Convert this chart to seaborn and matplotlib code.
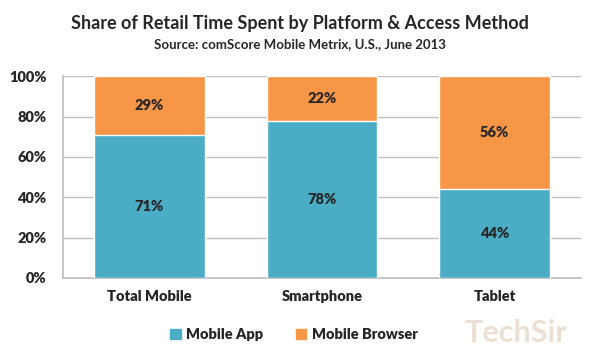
import pandas as pd
import matplotlib.pyplot as plt
import seaborn as sns
from matplotlib.patches import Patch
from matplotlib.ticker import PercentFormatter

# data
platforms = ['Total Mobile', 'Smartphone', 'Tablet']
app_share = [71, 78, 44]
browser_share = [29, 22, 56]

blue = '#4BACC6'
orange = '#F79646'

sns.set_theme(style="white")
plt.rcParams['font.family'] = ['Lato', 'DejaVu Sans']

df = pd.DataFrame({'Platform': platforms, 'App': app_share, 'Browser': browser_share})
df['Total'] = df['App'] + df['Browser']

fig = plt.figure(figsize=(6, 3.6), dpi=100)
ax = fig.add_axes([0.105, 0.228, 0.863, 0.56])

# stacked: full bar in orange, app part on top in blue
sns.barplot(data=df, x='Platform', y='Total', color=orange, width=0.64,
            saturation=1, ax=ax, zorder=2)
sns.barplot(data=df, x='Platform', y='App', color=blue, width=0.64,
            saturation=1, ax=ax, zorder=3)

ax.set_ylim(0, 100)
ax.set_yticks(range(0, 101, 20))
ax.yaxis.set_major_formatter(PercentFormatter(decimals=0))
ax.grid(axis='y', color='#BFBFBF', linewidth=1, zorder=0)
ax.set_axisbelow(True)
for s in ['top', 'right']:
    ax.spines[s].set_visible(False)
for s in ['left', 'bottom']:
    ax.spines[s].set_color('#BFBFBF')
ax.set_xlabel('')
ax.set_ylabel('')
ax.tick_params(axis='y', length=0, labelsize=10.5, pad=12)
ax.tick_params(axis='x', length=0, labelsize=10.5, pad=9)
for lab in ax.get_xticklabels() + ax.get_yticklabels():
    lab.set_fontweight('heavy')

# value labels
for i, (a, b) in enumerate(zip(app_share, browser_share)):
    ax.text(i, a / 2, f'{a}%', ha='center', va='center', fontsize=10.5, fontweight='heavy')
    ax.text(i, a + b / 2, f'{b}%', ha='center', va='center', fontsize=10.5, fontweight='heavy')

fig.text(0.5, 0.935, 'Share of Retail Time Spent by Platform & Access Method',
         ha='center', va='center', fontsize=13, fontweight='bold')
fig.text(0.5, 0.878, 'Source: comScore Mobile Metrix, U.S., June 2013',
         ha='center', va='center', fontsize=9.5, fontweight='bold')

handles = [Patch(color=blue, label='Mobile App'), Patch(color=orange, label='Mobile Browser')]
fig.legend(handles=handles, loc='center', bbox_to_anchor=(0.49, 0.07), ncol=2,
           frameon=False, prop={'weight': 'heavy', 'size': 10.5},
           handlelength=0.7, handleheight=0.7, handletextpad=0.4, columnspacing=2.2)

# watermark
fig.text(0.86, 0.075, 'TechSir', ha='center', va='center', fontsize=22,
         fontweight='bold', color='#E8D8C8', alpha=0.8)

fig.savefig('out.png', dpi=100)
